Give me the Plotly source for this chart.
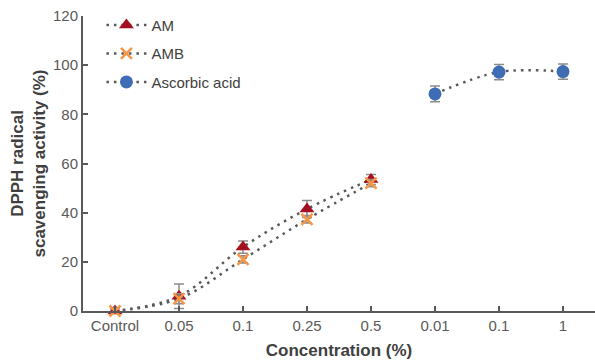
import plotly.graph_objects as go

tick_labels = ["Control", "0.05", "0.1", "0.25", "0.5", "0.01", "0.1", "1"]

am_x = [0, 1, 2, 3, 4]
am_y = [0, 6, 26, 41.5, 53.5]
am_err = [1, 5, 2.5, 3.5, 2]

amb_x = [0, 1, 2, 3, 4]
amb_y = [0, 5, 21, 37.3, 52]
amb_err = [1, 2, 1.5, 1.5, 1.5]

aa_x = [5, 6, 7]
aa_y = [88.3, 97.2, 97.4]
aa_err = [3.2, 3.1, 3.1]

line_col = "#595959"
err_col = "#8c8c8c"
font_fam = "Liberation Sans Narrow, Arial Narrow, Liberation Sans, sans-serif"

fig = go.Figure()

def add(x, y, err, name, sym, col, size, group):
    fig.add_trace(go.Scatter(
        x=x, y=y, name=name, mode="lines+markers", legendgroup=group,
        line=dict(color=line_col, width=2.5, dash="2.5px,5px", shape="spline"),
        marker=dict(symbol=sym, color=col, size=size,
                    line=dict(width=0, color=col)),
        error_y=dict(type="data", array=err, visible=True,
                     color=err_col, thickness=1.5, width=5),
        cliponaxis=False,
    ))

add(am_x, am_y, am_err, "AM", "triangle-up", "#A50F21", 13, "g1")
add(amb_x, amb_y, amb_err, "AMB", "x-thin", "#F79646", 11, "g2")
fig.data[-1].marker.line = dict(width=2.5, color="#F79646")
add(aa_x, aa_y, aa_err, "Ascorbic acid", "circle", "#3E6DB5", 13, "g3")

fig.update_layout(
    width=595, height=364,
    margin=dict(l=83, r=0, t=16, b=53),
    paper_bgcolor="white", plot_bgcolor="white",
    font=dict(family=font_fam, size=15, color="#595959"),
    showlegend=True,
    legend=dict(x=0.036, y=1.025, xanchor="left", yanchor="top",
                bgcolor="rgba(0,0,0,0)", font=dict(size=15, color="#404040"),
                itemwidth=40, tracegroupgap=6),
    xaxis=dict(
        range=[-0.5, 7.5], tickvals=list(range(8)), ticktext=tick_labels,
        showgrid=False, zeroline=False, showline=True, automargin=False,
        linecolor=line_col, linewidth=2, ticks="inside", ticklen=5,
        tickcolor=line_col, tickwidth=1.5,
        title=dict(text="<b>Concentration (%)</b>", standoff=11,
                   font=dict(size=17, color="#404040")),
    ),
    yaxis=dict(
        range=[0, 120], tickvals=[0, 20, 40, 60, 80, 100, 120],
        showgrid=False, zeroline=False, showline=True, automargin=False,
        linecolor=line_col, linewidth=2, ticks="inside", ticklen=5,
        tickcolor=line_col, tickwidth=1.5,
        title=dict(text="<b>DPPH radical<br>scavenging activity (%)</b>",
                   standoff=3, font=dict(size=17, color="#404040")),
    ),
)

fig.write_html("out.html", config={"displayModeBar": False},
               post_script="document.body.style.margin='0';document.body.style.overflow='hidden';")
